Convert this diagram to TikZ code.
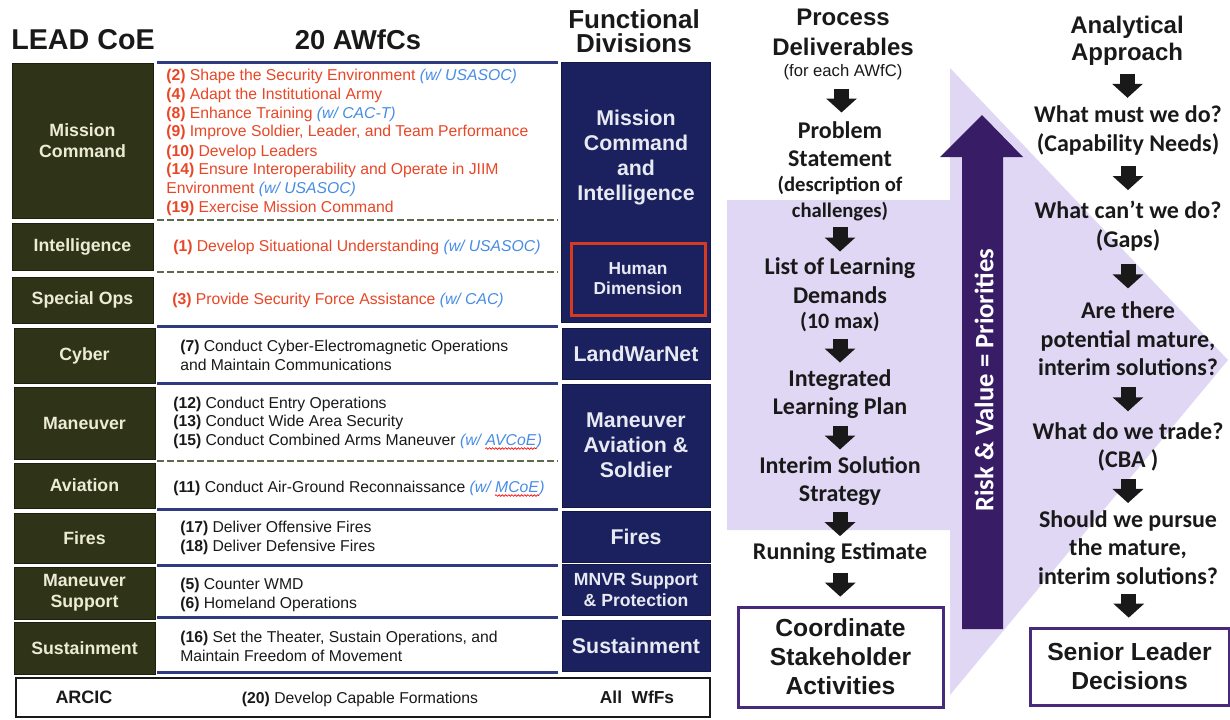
\documentclass[tikz,border=0pt]{standalone}
\usepackage{fontspec}
\setmainfont{Liberation Sans}
\newfontfamily\calib{Carlito}
\usetikzlibrary{arrows.meta,calc,decorations.pathmorphing}
\definecolor{olivebox}{RGB}{47,51,23}
\definecolor{oliveedge}{RGB}{30,32,15}
\definecolor{cream}{RGB}{236,236,214}
\definecolor{navybox}{RGB}{27,33,95}
\definecolor{navyline}{RGB}{48,58,128}
\definecolor{dashgreen}{RGB}{95,105,75}
\definecolor{itemred}{RGB}{232,70,38}
\definecolor{itemblue}{RGB}{70,140,228}
\definecolor{hdred}{RGB}{214,58,32}
\definecolor{lavender}{RGB}{223,215,243}
\definecolor{deeppurple}{RGB}{56,28,102}
\definecolor{boxpurple}{RGB}{72,42,122}
\definecolor{ink}{RGB}{25,25,25}
\definecolor{boxtext}{RGB}{232,234,242}
\newcommand\pxbox[7]{\node[#1, minimum width={(#5-#3)*0.75pt}, minimum height={(#6-#4)*0.75pt}] (#2) at ({(#3+#5)/2},{(#4+#6)/2}) {#7};}
\newcommand\barrow[3][0]{\draw[blockarrow] ($(#2.south)!0.5!(#3.north)+(0,#1-12)$) -- ($(#2.south)!0.5!(#3.north)+(0,#1+12)$);}
\begin{document}
\begin{tikzpicture}[x=0.75pt,y=-0.75pt,
  greenbox/.style={fill=olivebox, draw=oliveedge, line width=0.75pt, text=cream, align=center, inner sep=0pt, font=\bfseries\fontsize{13.3}{15.75}\selectfont},
  bluebox/.style={fill=navybox, draw=navybox!70!black, line width=0.75pt, text=boxtext, align=center, inner sep=0pt, font=\bfseries\fontsize{16}{18.75}\selectfont},
  hdbox/.style={draw=hdred, line width=2.25pt, text=boxtext, align=center, inner sep=0pt, font=\bfseries\fontsize{13}{15}\selectfont},
  item/.style={anchor=base west, inner sep=0pt, text=ink, font=\fontsize{11.8}{14}\selectfont},
  reditem/.style={item, text=itemred},
  blueitem/.style={item, text=itemblue, font=\itshape\fontsize{11.8}{14}\selectfont},
  wavy/.style={draw=red, line width=0.5pt, decorate, decoration={snake, amplitude=0.6pt, segment length=2.4pt}},
  sepsolid/.style={draw=navyline, line width=2.25pt},
  sepdash/.style={draw=dashgreen, line width=2pt, dash pattern=on 5pt off 2.5pt},
  header/.style={inner sep=0pt, align=center, font=\bfseries\fontsize{20.5}{18}\selectfont, text=ink},
  ptitle/.style={inner sep=0pt, align=center, font=\bfseries\fontsize{18}{22.5}\selectfont, text=ink},
  cstep/.style={inner sep=0pt, align=center, text=ink, font=\calib\bfseries\fontsize{18}{21.4}\selectfont},
  csmall/.style={cstep, font=\calib\bfseries\fontsize{15.5}{20}\selectfont},
  endbox/.style={draw=boxpurple, line width=2.25pt, fill=white, align=center, inner sep=0pt, text=ink, font=\bfseries\fontsize{18.5}{21.75}\selectfont},
  blockarrow/.style={draw=ink, line width=11.25pt, -{Triangle[width=22.5pt,length=10.5pt]}}
]
\useasboundingbox (0,0) rectangle (1230,719);

% ---------- right-hand background chevron ----------
\begin{scope}
\clip (0,0) rectangle (1230,719);
\fill[lavender] (727,200) -- (950,200) -- (950,68) -- (1228,360) -- (950,695) -- (950,530) -- (727,530) -- cycle;
\end{scope}
\fill[deeppurple] (962,629) -- (962,157) -- (940,157) -- (982,115) -- (1023,157) -- (1003,157) -- (1003,629) -- cycle;
\node[rotate=90, inner sep=0pt, text=white, font=\calib\bfseries\fontsize{20}{24}\selectfont] (rvp) at (984,380) {Risk \& Value = Priorities};

% ---------- headers ----------
\node[header, font=\bfseries\fontsize{21.5}{18}\selectfont] (leadcoe) at (83,40) {LEAD CoE};
\node[header] (awfcs) at (358,40) {20 AWfCs};
\node[header, font=\bfseries\fontsize{19.5}{18}\selectfont] (fdiv) at (634,31) {Functional\\Divisions};

% ---------- separators ----------
\draw[sepsolid] (157,62) -- (558,62);
\draw[sepdash] (157,220) -- (558,220);
\draw[sepdash] (157,272) -- (558,272);
\draw[sepsolid] (157,326) -- (558,326);
\draw[sepsolid] (157,383) -- (558,383);
\draw[sepdash] (157,461) -- (558,461);
\draw[sepsolid] (157,509) -- (558,509);
\draw[sepsolid] (157,565) -- (558,565);
\draw[sepsolid] (157,617) -- (558,617);
\draw[sepsolid] (157,672) -- (558,672);

% ---------- LEAD CoE boxes ----------
\pxbox{greenbox}{gmc}{12}{63}{153}{218}{Mission\\Command}
\pxbox{greenbox}{gint}{12}{223}{153}{270}{Intelligence}
\pxbox{greenbox}{gso}{12}{277}{153}{323}{Special Ops}
\pxbox{greenbox}{gcy}{14}{328}{155}{383}{Cyber}
\pxbox{greenbox}{gman}{14}{387}{155}{459}{Maneuver}
\pxbox{greenbox}{gav}{14}{463}{155}{508}{Aviation}
\pxbox{greenbox}{gfi}{14}{513}{155}{563}{Fires}
\pxbox{greenbox}{gms}{14}{567}{155}{619}{Maneuver\\Support}
\pxbox{greenbox}{gsu}{14}{622}{155}{674}{Sustainment}

% ---------- Functional division boxes ----------
\pxbox{bluebox}{bmci}{561}{62}{710}{322}{}
\node[inner sep=0pt, align=center, text=boxtext, font=\bfseries\fontsize{16}{18.75}\selectfont] (bmcitext) at (636,158) {Mission\\Command\\and\\Intelligence};
\pxbox{hdbox}{bhd}{571}{243}{705}{315}{Human\\Dimension}
\pxbox{bluebox}{blwn}{562}{328}{710}{379}{LandWarNet}
\pxbox{bluebox}{bmas}{562}{384}{710}{507}{Maneuver\\Aviation \&\\Soldier}
\pxbox{bluebox}{bfi}{562}{511}{710}{562}{Fires}
\pxbox{bluebox, font=\bfseries\fontsize{13.2}{15.75}\selectfont}{bmnvr}{562}{564}{710}{615}{MNVR Support\\\& Protection}
\pxbox{bluebox}{bsu}{562}{620}{710}{671}{Sustainment}

% ---------- AWfC items ----------
\node[reditem] (w2) at (166,80) {\textbf{(2)} Shape the Security Environment \textcolor{itemblue}{\itshape(w/ USASOC)}};
\node[reditem] (w4) at (166,99) {\textbf{(4)} Adapt the Institutional Army};
\node[reditem] (w8) at (166,118) {\textbf{(8)} Enhance Training \textcolor{itemblue}{\itshape(w/ CAC-T)}};
\node[reditem] (w9) at (166,136) {\textbf{(9)} Improve Soldier, Leader, and Team Performance};
\node[reditem] (w10) at (166,156) {\textbf{(10)} Develop Leaders};
\node[reditem] (w14) at (166,174) {\textbf{(14)} Ensure Interoperability and Operate in JIIM};
\node[reditem] (w14b) at (166,193) {Environment \textcolor{itemblue}{\itshape(w/ USASOC)}};
\node[reditem] (w19) at (166,212) {\textbf{(19)} Exercise Mission Command};
\node[reditem] (w1) at (173,251) {\textbf{(1)} Develop Situational Understanding \textcolor{itemblue}{\itshape(w/ USASOC)}};
\node[reditem] (w3) at (172,304) {\textbf{(3)} Provide Security Force Assistance \textcolor{itemblue}{\itshape(w/ CAC)}};
\node[item] (w7) at (180,351) {\textbf{(7)} Conduct Cyber-Electromagnetic Operations};
\node[item] (w7b) at (180,370) {and Maintain Communications};
\node[item] (w12) at (173,408) {\textbf{(12)} Conduct Entry Operations};
\node[item] (w13) at (173,426) {\textbf{(13)} Conduct Wide Area Security};
\node[item] (w15) at (173,445) {\textbf{(15)} Conduct Combined Arms Maneuver \textcolor{itemblue}{\itshape(w/}};
\node[blueitem] (w15av) at ($(w15.base east)+(4,0)$) {AVCoE};
\node[blueitem] (w15cl) at (w15av.base east) {)};
\draw[wavy] ($(w15av.base west)+(0,3.5)$) -- ($(w15av.base east)+(0,3.5)$);
\node[item] (w11) at (173,492) {\textbf{(11)} Conduct Air-Ground Reconnaissance \textcolor{itemblue}{\itshape(w/}};
\node[blueitem] (w11mc) at ($(w11.base east)+(4,0)$) {MCoE};
\node[blueitem] (w11cl) at (w11mc.base east) {)};
\draw[wavy] ($(w11mc.base west)+(0,3.5)$) -- ($(w11mc.base east)+(0,3.5)$);
\node[item] (w17) at (180,532) {\textbf{(17)} Deliver Offensive Fires};
\node[item] (w18) at (180,551) {\textbf{(18)} Deliver Defensive Fires};
\node[item] (w5) at (180,589) {\textbf{(5)} Counter WMD};
\node[item] (w6) at (180,608) {\textbf{(6)} Homeland Operations};
\node[item] (w16) at (180,642) {\textbf{(16)} Set the Theater, Sustain Operations, and};
\node[item] (w16b) at (180,661) {Maintain Freedom of Movement};

% ---------- ARCIC row ----------
\pxbox{draw=ink, line width=1.5pt, fill=white}{arcicbox}{16}{678}{710}{717}{}
\node[inner sep=0pt, text=ink, font=\bfseries\fontsize{13.5}{15}\selectfont] (arcic) at (84,697) {ARCIC};
\node[inner sep=0pt, text=ink, font=\fontsize{11.8}{14}\selectfont] (w20) at (360,699) {\textbf{(20)} Develop Capable Formations};
\node[inner sep=0pt, text=ink, font=\bfseries\fontsize{13}{15}\selectfont] (allwf) at (637,697) {All \ WfFs};

% ---------- Process deliverables ----------
\node[ptitle] (pdt) at (843,32) {Process\\Deliverables};
\node[inner sep=0pt, text=ink, font=\fontsize{12.5}{15}\selectfont] (fea) at (843,72) {(for each AWfC)};
\node[cstep] (prob) at (840,144) {Problem\\Statement};
\node[csmall] (desc) at (840,198.5) {(description of\\challenges)};
\node[cstep] (lld) at (840,280.5) {List of Learning\\Demands};
\node[csmall, font=\calib\bfseries\fontsize{16.5}{20}\selectfont] (tenmax) at (840,322) {(10 max)};
\node[cstep] (ilp) at (840,394) {Integrated\\Learning Plan};
\node[cstep] (iss) at (840,481) {Interim Solution\\Strategy};
\node[cstep] (re) at (840,553) {Running Estimate};
\pxbox{endbox}{csa}{738}{607}{943}{707}{Coordinate\\Stakeholder\\Activities}
\barrow{fea}{prob}
\barrow{desc}{lld}
\barrow{tenmax}{ilp}
\barrow{ilp}{iss}
\barrow{iss}{re}
\barrow{re}{csa}

% ---------- Analytical approach ----------
\node[ptitle, font=\bfseries\fontsize{18}{20.25}\selectfont] (aa) at (1127,41) {Analytical\\Approach};
\node[cstep] (q1) at (1128,130.5) {What must we do?\\(Capability Needs)};
\node[cstep] (q2) at (1128,226) {What can’t we do?\\(Gaps)};
\node[cstep] (q3) at (1128,339) {Are there\\potential mature,\\interim solutions?};
\node[cstep] (q4) at (1128,447) {What do we trade?\\(CBA )};
\node[cstep] (q5) at (1128,547.5) {Should we pursue\\the mature,\\interim solutions?};
\pxbox{endbox}{sld}{1030}{628}{1229}{705}{Senior Leader\\Decisions}
\barrow{aa}{q1}
\barrow{q1}{q2}
\barrow{q2}{q3}
\barrow{q3}{q4}
\barrow{q4}{q5}
\barrow{q5}{sld}
\end{tikzpicture}
\end{document}
